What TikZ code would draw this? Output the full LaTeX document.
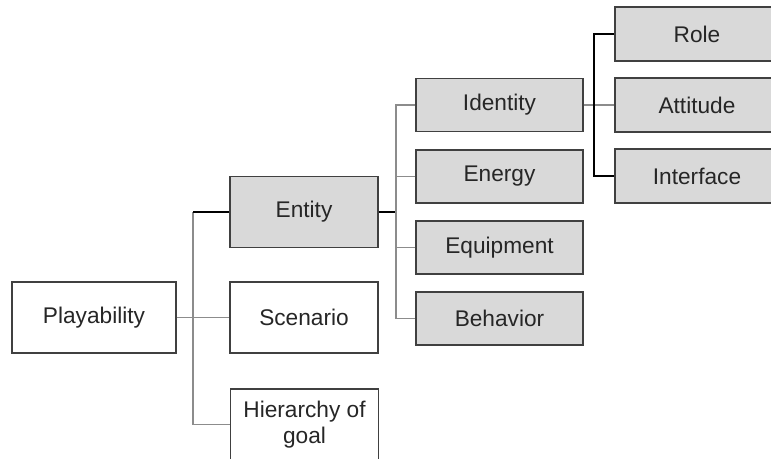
\documentclass[tikz,border=0pt]{standalone}
\usepackage{fontspec}
\setmainfont{Liberation Sans}
\begin{document}
\begin{tikzpicture}[x=0.75pt,y=-0.75pt,
  box/.style={draw=black!75,line width=0.9pt,inner sep=0pt,align=center,
    text=black!85,font=\fontsize{17}{20}\selectfont},
  plain/.style={box,fill=white},
  shaded/.style={box,fill=black!15},
  bigbox/.style={minimum width=148*0.75pt,minimum height=71*0.75pt},
  rootbox/.style={minimum width=164*0.75pt,minimum height=71*0.75pt},
  midbox/.style={minimum width=167*0.75pt,minimum height=53*0.75pt},
  leafbox/.style={minimum width=164*0.75pt,minimum height=54*0.75pt},
  link/.style={draw=black!45,line width=0.8pt},
  mainlink/.style={draw=black,line width=1pt}]
\useasboundingbox (0,0) rectangle (771,458);

% first level
\node[plain,rootbox] (play) at (94,317.5) {Playability};
\node[shaded,bigbox] (ent) at (304,212) {Entity};
\node[plain,bigbox] (scen) at (304,317.5) {Scenario};
\node[plain,bigbox] (hier) at (304.5,424.5) {Hierarchy of\\goal};

% second level
\node[shaded,midbox] (ident) at (499.5,105) {Identity};
\node[shaded,midbox] (energy) at (499.5,176.5) {Energy};
\node[shaded,midbox] (equip) at (499.5,247.5) {Equipment};
\node[shaded,midbox] (behav) at (499.5,318.5) {Behavior};

% third level
\node[shaded,leafbox] (role) at (697,34) {Role};
\node[shaded,leafbox] (att) at (697,105) {Attitude};
\node[shaded,leafbox] (inter) at (697,176) {Interface};

% bus junctions
\coordinate (busA) at (193,212);
\coordinate (busB) at (396,212);
\coordinate (busC) at (594,105);

% connectors from Playability
\draw[link] (play.east) -- (scen.west);
\draw[link] (busA) |- (hier.west);
\draw[mainlink] (busA) -- (ent.west);

% connectors from Entity
\draw[mainlink] (ent.east) -- (busB);
\draw[link] (ident.west) -| (busB) |- (behav.west);
\draw[link] (energy.west) -- (energy.west -| busB);
\draw[link] (equip.west) -- (equip.west -| busB);

% connectors from Identity
\draw[link] (ident.east) -- (att.west);
\draw[mainlink] (role.west) -| (busC) |- (inter.west);
\end{tikzpicture}
\end{document}
